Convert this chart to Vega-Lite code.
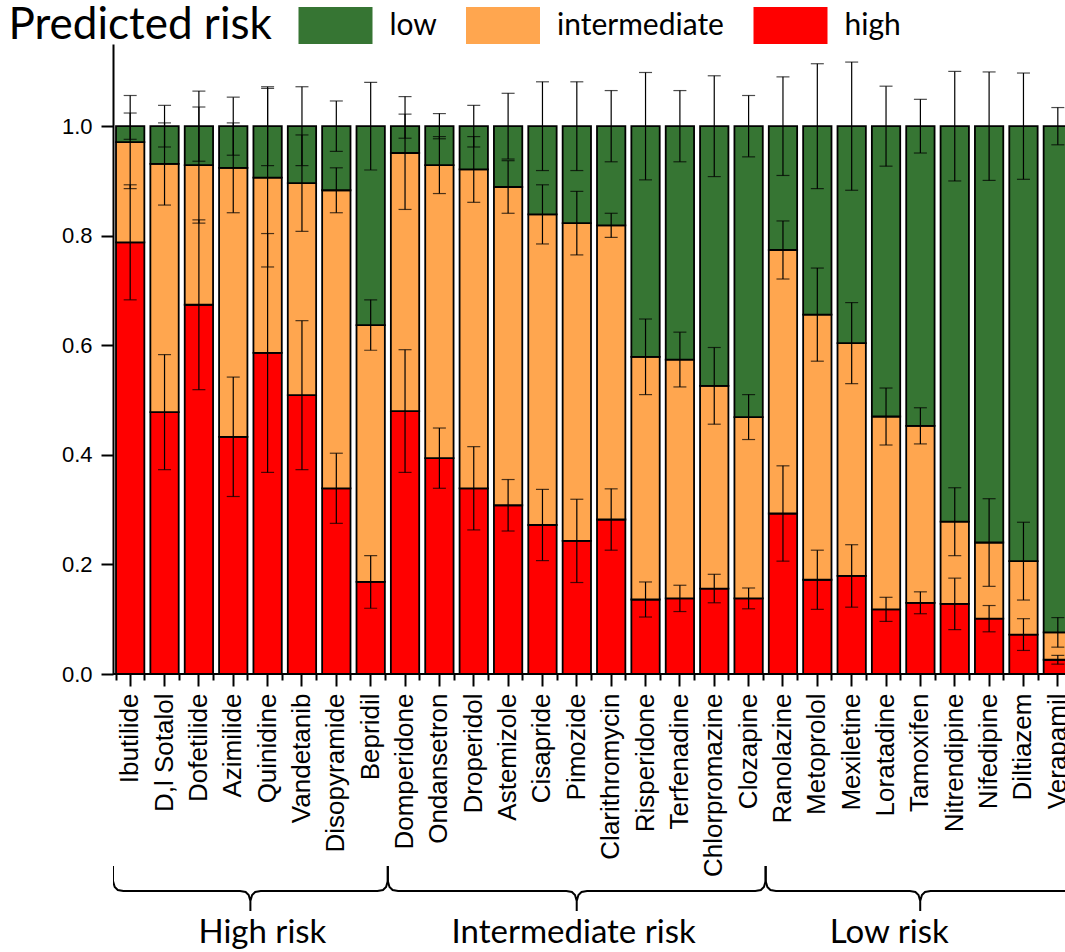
{
  "$schema": "https://vega.github.io/schema/vega-lite/v6.json",
  "background": "white",
  "padding": {"left": 8, "top": 7, "right": -5, "bottom": 0},
  "config": {"view": {"stroke": null}},
  "spacing": 192,
  "bounds": "flush",
  "vconcat": [
    {
      "width": 952,
      "height": 630,
      "data": {"values": [
        {"drug":"Ibutilide","risk":"high","lo":0,"hi":0.788,"sd":0.105},
        {"drug":"Ibutilide","risk":"intermediate","lo":0.788,"hi":0.971,"sd":0.085},
        {"drug":"Ibutilide","risk":"low","lo":0.971,"hi":1,"sd":0.024},
        {"drug":"D,l Sotalol","risk":"high","lo":0,"hi":0.478,"sd":0.105},
        {"drug":"D,l Sotalol","risk":"intermediate","lo":0.478,"hi":0.931,"sd":0.075},
        {"drug":"D,l Sotalol","risk":"low","lo":0.931,"hi":1,"sd":0.038},
        {"drug":"Dofetilide","risk":"high","lo":0,"hi":0.674,"sd":0.155},
        {"drug":"Dofetilide","risk":"intermediate","lo":0.674,"hi":0.929,"sd":0.106},
        {"drug":"Dofetilide","risk":"low","lo":0.929,"hi":1,"sd":0.064},
        {"drug":"Azimilide","risk":"high","lo":0,"hi":0.433,"sd":0.109},
        {"drug":"Azimilide","risk":"intermediate","lo":0.433,"hi":0.924,"sd":0.082},
        {"drug":"Azimilide","risk":"low","lo":0.924,"hi":1,"sd":0.053},
        {"drug":"Quinidine","risk":"high","lo":0,"hi":0.586,"sd":0.218},
        {"drug":"Quinidine","risk":"intermediate","lo":0.586,"hi":0.906,"sd":0.163},
        {"drug":"Quinidine","risk":"low","lo":0.906,"hi":1,"sd":0.072},
        {"drug":"Vandetanib","risk":"high","lo":0,"hi":0.509,"sd":0.136},
        {"drug":"Vandetanib","risk":"intermediate","lo":0.509,"hi":0.896,"sd":0.088},
        {"drug":"Vandetanib","risk":"low","lo":0.896,"hi":1,"sd":0.072},
        {"drug":"Disopyramide","risk":"high","lo":0,"hi":0.339,"sd":0.064},
        {"drug":"Disopyramide","risk":"intermediate","lo":0.339,"hi":0.883,"sd":0.041},
        {"drug":"Disopyramide","risk":"low","lo":0.883,"hi":1,"sd":0.046},
        {"drug":"Bepridil","risk":"high","lo":0,"hi":0.168,"sd":0.048},
        {"drug":"Bepridil","risk":"intermediate","lo":0.168,"hi":0.637,"sd":0.046},
        {"drug":"Bepridil","risk":"low","lo":0.637,"hi":1,"sd":0.080},
        {"drug":"Domperidone","risk":"high","lo":0,"hi":0.480,"sd":0.112},
        {"drug":"Domperidone","risk":"intermediate","lo":0.480,"hi":0.951,"sd":0.103},
        {"drug":"Domperidone","risk":"low","lo":0.951,"hi":1,"sd":0.022},
        {"drug":"Ondansetron","risk":"high","lo":0,"hi":0.394,"sd":0.055},
        {"drug":"Ondansetron","risk":"intermediate","lo":0.394,"hi":0.929,"sd":0.052},
        {"drug":"Ondansetron","risk":"low","lo":0.929,"hi":1,"sd":0.023},
        {"drug":"Droperidol","risk":"high","lo":0,"hi":0.339,"sd":0.076},
        {"drug":"Droperidol","risk":"intermediate","lo":0.339,"hi":0.921,"sd":0.060},
        {"drug":"Droperidol","risk":"low","lo":0.921,"hi":1,"sd":0.038},
        {"drug":"Astemizole","risk":"high","lo":0,"hi":0.308,"sd":0.047},
        {"drug":"Astemizole","risk":"intermediate","lo":0.308,"hi":0.889,"sd":0.048},
        {"drug":"Astemizole","risk":"low","lo":0.889,"hi":1,"sd":0.060},
        {"drug":"Cisapride","risk":"high","lo":0,"hi":0.272,"sd":0.065},
        {"drug":"Cisapride","risk":"intermediate","lo":0.272,"hi":0.839,"sd":0.054},
        {"drug":"Cisapride","risk":"low","lo":0.839,"hi":1,"sd":0.081},
        {"drug":"Pimozide","risk":"high","lo":0,"hi":0.243,"sd":0.076},
        {"drug":"Pimozide","risk":"intermediate","lo":0.243,"hi":0.823,"sd":0.058},
        {"drug":"Pimozide","risk":"low","lo":0.823,"hi":1,"sd":0.081},
        {"drug":"Clarithromycin","risk":"high","lo":0,"hi":0.282,"sd":0.056},
        {"drug":"Clarithromycin","risk":"intermediate","lo":0.282,"hi":0.819,"sd":0.022},
        {"drug":"Clarithromycin","risk":"low","lo":0.819,"hi":1,"sd":0.065},
        {"drug":"Risperidone","risk":"high","lo":0,"hi":0.136,"sd":0.032},
        {"drug":"Risperidone","risk":"intermediate","lo":0.136,"hi":0.579,"sd":0.069},
        {"drug":"Risperidone","risk":"low","lo":0.579,"hi":1,"sd":0.098},
        {"drug":"Terfenadine","risk":"high","lo":0,"hi":0.138,"sd":0.024},
        {"drug":"Terfenadine","risk":"intermediate","lo":0.138,"hi":0.574,"sd":0.050},
        {"drug":"Terfenadine","risk":"low","lo":0.574,"hi":1,"sd":0.065},
        {"drug":"Chlorpromazine","risk":"high","lo":0,"hi":0.156,"sd":0.026},
        {"drug":"Chlorpromazine","risk":"intermediate","lo":0.156,"hi":0.526,"sd":0.070},
        {"drug":"Chlorpromazine","risk":"low","lo":0.526,"hi":1,"sd":0.092},
        {"drug":"Clozapine","risk":"high","lo":0,"hi":0.138,"sd":0.019},
        {"drug":"Clozapine","risk":"intermediate","lo":0.138,"hi":0.469,"sd":0.041},
        {"drug":"Clozapine","risk":"low","lo":0.469,"hi":1,"sd":0.056},
        {"drug":"Ranolazine","risk":"high","lo":0,"hi":0.293,"sd":0.087},
        {"drug":"Ranolazine","risk":"intermediate","lo":0.293,"hi":0.774,"sd":0.053},
        {"drug":"Ranolazine","risk":"low","lo":0.774,"hi":1,"sd":0.090},
        {"drug":"Metoprolol","risk":"high","lo":0,"hi":0.172,"sd":0.054},
        {"drug":"Metoprolol","risk":"intermediate","lo":0.172,"hi":0.656,"sd":0.085},
        {"drug":"Metoprolol","risk":"low","lo":0.656,"hi":1,"sd":0.114},
        {"drug":"Mexiletine","risk":"high","lo":0,"hi":0.179,"sd":0.057},
        {"drug":"Mexiletine","risk":"intermediate","lo":0.179,"hi":0.604,"sd":0.074},
        {"drug":"Mexiletine","risk":"low","lo":0.604,"hi":1,"sd":0.117},
        {"drug":"Loratadine","risk":"high","lo":0,"hi":0.118,"sd":0.022},
        {"drug":"Loratadine","risk":"intermediate","lo":0.118,"hi":0.470,"sd":0.052},
        {"drug":"Loratadine","risk":"low","lo":0.470,"hi":1,"sd":0.073},
        {"drug":"Tamoxifen","risk":"high","lo":0,"hi":0.130,"sd":0.020},
        {"drug":"Tamoxifen","risk":"intermediate","lo":0.130,"hi":0.453,"sd":0.033},
        {"drug":"Tamoxifen","risk":"low","lo":0.453,"hi":1,"sd":0.049},
        {"drug":"Nitrendipine","risk":"high","lo":0,"hi":0.128,"sd":0.047},
        {"drug":"Nitrendipine","risk":"intermediate","lo":0.128,"hi":0.278,"sd":0.062},
        {"drug":"Nitrendipine","risk":"low","lo":0.278,"hi":1,"sd":0.100},
        {"drug":"Nifedipine","risk":"high","lo":0,"hi":0.101,"sd":0.024},
        {"drug":"Nifedipine","risk":"intermediate","lo":0.101,"hi":0.240,"sd":0.080},
        {"drug":"Nifedipine","risk":"low","lo":0.240,"hi":1,"sd":0.099},
        {"drug":"Diltiazem","risk":"high","lo":0,"hi":0.072,"sd":0.029},
        {"drug":"Diltiazem","risk":"intermediate","lo":0.072,"hi":0.206,"sd":0.071},
        {"drug":"Diltiazem","risk":"low","lo":0.206,"hi":1,"sd":0.097},
        {"drug":"Verapamil","risk":"high","lo":0,"hi":0.026,"sd":0.008},
        {"drug":"Verapamil","risk":"intermediate","lo":0.026,"hi":0.076,"sd":0.027},
        {"drug":"Verapamil","risk":"low","lo":0.076,"hi":1,"sd":0.034}
      ]},
      "resolve": {"axis": {"x": "independent"}},
      "layer": [
        {
          "mark": {"type": "bar", "stroke": "black", "strokeWidth": 1.8, "clip": true},
          "encoding": {
            "x": {
              "field": "drug", "type": "nominal", "sort": null,
              "scale": {
                "domain": ["Ibutilide","D,l Sotalol","Dofetilide","Azimilide","Quinidine","Vandetanib","Disopyramide","Bepridil","Domperidone","Ondansetron","Droperidol","Astemizole","Cisapride","Pimozide","Clarithromycin","Risperidone","Terfenadine","Chlorpromazine","Clozapine","Ranolazine","Metoprolol","Mexiletine","Loratadine","Tamoxifen","Nitrendipine","Nifedipine","Diltiazem","Verapamil"],
                "range": [0, 962],
                "paddingInner": 0.175,
                "paddingOuter": 0.0875
              },
              "axis": {
                "title": null, "domain": false, "orient": "bottom", "labelAngle": -90,
                "labelFont": "Liberation Sans", "labelFontSize": 26, "labelColor": "black", "labelLimit": 400,
                "labelPadding": 7, "tickColor": "black", "tickWidth": 2, "tickSize": 12
              }
            },
            "y": {
              "field": "lo", "type": "quantitative",
              "scale": {"domain": [0, 1.15], "nice": false},
              "axis": {
                "title": null, "grid": false, "values": [0, 0.2, 0.4, 0.6, 0.8, 1.0], "format": ".1f",
                "domainColor": "black", "domainWidth": 2, "tickColor": "black", "tickWidth": 2, "tickSize": 12,
                "labelFont": "Liberation Sans", "labelFontSize": 22, "labelColor": "black", "labelPadding": 9
              }
            },
            "y2": {"field": "hi"},
            "color": {
              "field": "risk", "type": "nominal",
              "scale": {"domain": ["low", "intermediate", "high"], "range": ["#367533", "#FFA64F", "#FF0000"]},
              "legend": {
                "orient": "none", "legendX": -104.5, "legendY": -37, "direction": "horizontal",
                "title": "Predicted risk", "titleOrient": "left", "titleFont": "Lato", "titleFontSize": 44,
                "titleFontWeight": "normal", "titleColor": "black", "titleLimit": 400,
                "titleAnchor": "middle", "titleBaseline": "middle", "titlePadding": 44.5,
                "labelFont": "Lato", "labelFontSize": 30, "labelColor": "black", "labelOffset": 35.5,
                "labelLimit": 400, "columnPadding": 28.5,
                "symbolType": "M-2,-1H2V1H-2Z", "symbolSize": 1369, "symbolStrokeWidth": 0, "symbolOpacity": 1,
                "encode": {
                  "title": {"update": {"dy": {"value": 3.5}}},
                  "symbols": {"update": {"fill": {"signal": "datum.value === 'low' ? '#008000' : datum.value === 'intermediate' ? '#FF9933' : '#FF0000'"}}}
                }
              }
            }
          }
        },
        {
          "mark": {"type": "errorbar", "ticks": true, "size": 13, "thickness": 1.2, "color": "black"},
          "encoding": {
            "x": {
              "field": "drug", "type": "nominal", "sort": null,
              "axis": {
                "title": null, "domain": false, "labels": false, "orient": "bottom", "tickBand": "extent",
                "tickColor": "black", "tickWidth": 2, "tickSize": 6
              }
            },
            "y": {"field": "hi", "type": "quantitative"},
            "yError": {"field": "sd"}
          }
        },
        {
          "mark": {"type": "rule", "color": "black", "strokeWidth": 2},
          "encoding": {"y": {"datum": 0}}
        }
      ]
    },
    {
      "width": 952,
      "height": 87,
      "layer": [
        {
          "data": {"values": [
            {"grp":"A","k":0,"x":0,"y":0},{"grp":"A","k":1,"x":0,"y":15},{"grp":"A","k":2,"x":0.05,"y":21},{"grp":"A","k":3,"x":0.14,"y":24},{"grp":"A","k":4,"x":0.3,"y":25},
            {"grp":"A","k":5,"x":3.7,"y":25},{"grp":"A","k":6,"x":3.86,"y":26},{"grp":"A","k":7,"x":3.95,"y":29},{"grp":"A","k":8,"x":4,"y":35},{"grp":"A","k":9,"x":4,"y":45},
            {"grp":"A","k":10,"x":4,"y":35},{"grp":"A","k":11,"x":4.05,"y":29},{"grp":"A","k":12,"x":4.14,"y":26},{"grp":"A","k":13,"x":4.3,"y":25},
            {"grp":"A","k":14,"x":7.7,"y":25},{"grp":"A","k":15,"x":7.86,"y":24},{"grp":"A","k":16,"x":7.95,"y":21},{"grp":"A","k":17,"x":8,"y":15},{"grp":"A","k":18,"x":8,"y":0},
            {"grp":"B","k":0,"x":8,"y":0},{"grp":"B","k":1,"x":8,"y":15},{"grp":"B","k":2,"x":8.05,"y":21},{"grp":"B","k":3,"x":8.14,"y":24},{"grp":"B","k":4,"x":8.3,"y":25},
            {"grp":"B","k":5,"x":13.2,"y":25},{"grp":"B","k":6,"x":13.36,"y":26},{"grp":"B","k":7,"x":13.45,"y":29},{"grp":"B","k":8,"x":13.5,"y":35},{"grp":"B","k":9,"x":13.5,"y":45},
            {"grp":"B","k":10,"x":13.5,"y":35},{"grp":"B","k":11,"x":13.55,"y":29},{"grp":"B","k":12,"x":13.64,"y":26},{"grp":"B","k":13,"x":13.8,"y":25},
            {"grp":"B","k":14,"x":18.7,"y":25},{"grp":"B","k":15,"x":18.86,"y":24},{"grp":"B","k":16,"x":18.95,"y":21},{"grp":"B","k":17,"x":19,"y":15},{"grp":"B","k":18,"x":19,"y":0},
            {"grp":"C","k":0,"x":19,"y":0},{"grp":"C","k":1,"x":19,"y":15},{"grp":"C","k":2,"x":19.05,"y":21},{"grp":"C","k":3,"x":19.14,"y":24},{"grp":"C","k":4,"x":19.3,"y":25},
            {"grp":"C","k":5,"x":23.2,"y":25},{"grp":"C","k":6,"x":23.36,"y":26},{"grp":"C","k":7,"x":23.45,"y":29},{"grp":"C","k":8,"x":23.5,"y":35},{"grp":"C","k":9,"x":23.5,"y":45},
            {"grp":"C","k":10,"x":23.5,"y":35},{"grp":"C","k":11,"x":23.55,"y":29},{"grp":"C","k":12,"x":23.64,"y":26},{"grp":"C","k":13,"x":23.8,"y":25},
            {"grp":"C","k":14,"x":27.7,"y":25},{"grp":"C","k":15,"x":27.86,"y":24},{"grp":"C","k":16,"x":27.95,"y":21},{"grp":"C","k":17,"x":28,"y":15},{"grp":"C","k":18,"x":28,"y":0}
          ]},
          "mark": {"type": "line", "color": "black", "strokeWidth": 2, "clip": true},
          "encoding": {
            "x": {"field": "x", "type": "quantitative", "scale": {"domain": [0, 27.715], "nice": false, "zero": false}, "axis": null},
            "y": {"field": "y", "type": "quantitative", "scale": {"domain": [0, 87], "reverse": true, "nice": false}, "axis": null},
            "detail": {"field": "grp", "type": "nominal"},
            "order": {"field": "k", "type": "quantitative"}
          }
        },
        {
          "data": {"values": [
            {"group": "High risk", "x": 4.35},
            {"group": "Intermediate risk", "x": 13.41},
            {"group": "Low risk", "x": 22.6}
          ]},
          "mark": {"type": "text", "font": "Lato", "fontSize": 33, "baseline": "alphabetic", "align": "center", "color": "black"},
          "encoding": {
            "x": {"field": "x", "type": "quantitative"},
            "y": {"datum": 77, "type": "quantitative"},
            "text": {"field": "group"}
          }
        }
      ]
    }
  ]
}
